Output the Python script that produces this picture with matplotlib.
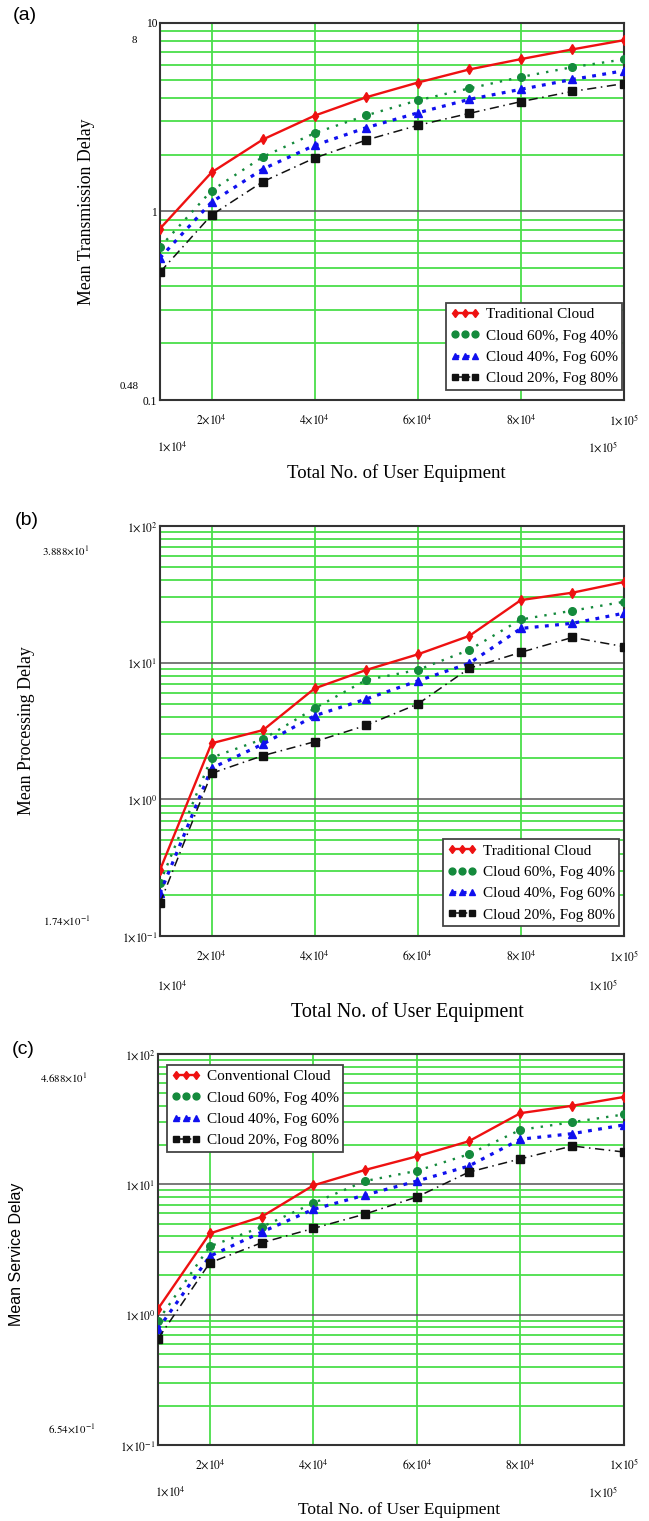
import numpy as np
import matplotlib
matplotlib.use('Agg')
import matplotlib.pyplot as plt

plt.rcParams['font.family'] = ['Liberation Serif', 'DejaVu Serif']
plt.rcParams['mathtext.fontset'] = 'stix'

# number of user equipment
ue = [1e4, 2e4, 3e4, 4e4, 5e4, 6e4, 7e4, 8e4, 9e4, 1e5]

# (a) mean transmission delay
trans_cloud = [0.81, 1.61, 2.41, 3.22, 4.03, 4.82, 5.66, 6.42, 7.23, 8.09]
trans_c60 = [0.647, 1.29, 1.95, 2.60, 3.23, 3.88, 4.49, 5.16, 5.82, 6.40]
trans_c40 = [0.567, 1.12, 1.68, 2.24, 2.78, 3.33, 3.93, 4.44, 5.01, 5.57]
trans_c20 = [0.476, 0.957, 1.44, 1.92, 2.39, 2.86, 3.31, 3.82, 4.33, 4.76]

# (b) mean processing delay
proc_cloud = [0.304, 2.57, 3.21, 6.48, 8.84, 11.5, 15.7, 28.7, 32.5, 38.9]
proc_c60 = [0.245, 2.02, 2.76, 4.63, 7.47, 8.84, 12.4, 20.7, 24.0, 27.9]
proc_c40 = [0.205, 1.69, 2.54, 4.09, 5.42, 7.35, 9.89, 17.8, 19.4, 23.0]
proc_c20 = [0.174, 1.55, 2.09, 2.64, 3.48, 4.98, 9.10, 11.9, 15.3, 13.1]

# (c) mean service delay
serv_cloud = [1.11, 4.20, 5.64, 9.82, 12.9, 16.4, 21.4, 35.2, 40.1, 46.88]
serv_c60 = [0.90, 3.34, 4.70, 7.18, 10.6, 12.7, 17.0, 26.2, 30.0, 34.4]
serv_c40 = [0.776, 2.81, 4.30, 6.43, 8.28, 10.6, 13.8, 22.2, 24.5, 28.6]
serv_c20 = [0.654, 2.50, 3.56, 4.59, 5.92, 8.00, 12.4, 15.7, 19.7, 17.7]

labels_ab = ['Traditional Cloud', 'Cloud 60%, Fog 40%', 'Cloud 40%, Fog 60%', 'Cloud 20%, Fog 80%']
labels_c = ['Conventional Cloud', 'Cloud 60%, Fog 40%', 'Cloud 40%, Fog 60%', 'Cloud 20%, Fog 80%']

xticks = [2e4, 4e4, 6e4, 8e4, 1e5]
xticklabels = [r'$2{\times}10^{4}$', r'$4{\times}10^{4}$', r'$6{\times}10^{4}$',
               r'$8{\times}10^{4}$', r'$1{\times}10^{5}$']
sci_yticks = [0.1, 1, 10, 100]
sci_yticklabels = [r'$1{\times}10^{-1}$', r'$1{\times}10^{0}$', r'$1{\times}10^{1}$', r'$1{\times}10^{2}$']

styles = [
    dict(color='#ee1111', ls='-', lw=1.7, marker='d', ms=5),
    dict(color='#148a3c', ls=(0, (1, 3)), lw=1.7, marker='o', ms=5.5),
    dict(color='#1010ee', ls=(0, (1.2, 2)), lw=2.3, marker='^', ms=5.5),
    dict(color='#111111', ls=(0, (6, 3, 1, 3)), lw=1.1, marker='s', ms=5.5),
]

fig = plt.figure(figsize=(6.49, 15.21), dpi=100)


def make_panel(rect, series, labels, ylim, yticks, yticklabels, ylabel, ylab_font, ylab_size,
               ylab_pos, xlab_size, xlab_pos, extra, sec_y, leg_loc, leg_anchor):
    ax = fig.add_axes(rect)
    ax.set_yscale('log')
    ax.set_xlim(1e4, 1e5)
    ax.set_ylim(*ylim)
    # grid: minor green, decades dark
    ax.set_yticks(yticks)
    ax.set_yticklabels(yticklabels, fontsize=8.3)
    ax.yaxis.set_minor_locator(matplotlib.ticker.LogLocator(base=10, subs=np.arange(2, 10)))
    ax.yaxis.set_minor_formatter(matplotlib.ticker.NullFormatter())
    ax.grid(True, which='minor', axis='y', color='#4ade4a', lw=1.3)
    ax.grid(True, which='major', axis='y', color='#555555', lw=1.1)
    ax.set_xticks(xticks)
    ax.set_xticklabels(xticklabels, fontsize=8.3)
    ax.grid(True, which='major', axis='x', color='#4ade4a', lw=1.3)
    ax.tick_params(axis='x', which='both', length=0, pad=9)
    ax.tick_params(axis='y', which='both', length=0, pad=2)
    ax.set_axisbelow(True)
    for sp in ax.spines.values():
        sp.set_color('#333333')
        sp.set_linewidth(1.5)
    for ys, lab, st in zip(series, labels, styles):
        ax.plot(ue, ys, label=lab, zorder=3, **st)
    leg = ax.legend(loc=leg_loc, bbox_to_anchor=leg_anchor, borderaxespad=0, fontsize=11,
                    numpoints=3, handlelength=1.9, handletextpad=0.4, labelspacing=0.5,
                    markerscale=0.9, fancybox=False, framealpha=1, edgecolor='#444444',
                    borderpad=0.3)
    leg.get_frame().set_linewidth(1.3)
    leg.set_zorder(5)
    ax.set_ylabel(ylabel, fontsize=ylab_size, family=ylab_font, va='center')
    ax.yaxis.set_label_coords(*ylab_pos)
    ax.set_xlabel('Total No. of User Equipment', fontsize=xlab_size, va='center')
    ax.xaxis.set_label_coords(*xlab_pos)
    for txt, xy in extra:
        ax.text(xy[0], xy[1], txt, transform=ax.transAxes, ha='right', va='center', fontsize=7.8)
    ax.text(0.026, sec_y, r'$1{\times}10^{4}$', transform=ax.transAxes, ha='center', va='center', fontsize=8.3)
    ax.text(0.955, sec_y, r'$1{\times}10^{5}$', transform=ax.transAxes, ha='center', va='center', fontsize=8.3)
    return ax


ax_a = make_panel([0.2465, 0.737, 0.715, 0.248],
                  [trans_cloud, trans_c60, trans_c40, trans_c20], labels_ab,
                  (0.1, 10), [0.1, 1, 10], ['0.1', '1', '10'],
                  'Mean Transmission Delay', ['Liberation Serif'], 12.8, (-0.159, 0.499),
                  13.5, (0.509, -0.194),
                  [('8', (-0.05, 0.952)), ('0.48', (-0.047, 0.037))], -0.125,
                  'lower right', (0.996, 0.027))

ax_b = make_panel([0.2465, 0.3846, 0.715, 0.2696],
                  [proc_cloud, proc_c60, proc_c40, proc_c20], labels_ab,
                  (0.1, 100), sci_yticks, sci_yticklabels,
                  'Mean Processing Delay', ['Liberation Serif'], 12.8, (-0.287, 0.502),
                  14.4, (0.534, -0.185),
                  [(r'$3.888{\times}10^{1}$', (-0.151, 0.939)),
                   (r'$1.74{\times}10^{-1}$', (-0.151, 0.037))], -0.12,
                  'lower right', (0.99, 0.024))

ax_c = make_panel([0.2435, 0.050, 0.718, 0.257],
                  [serv_cloud, serv_c60, serv_c40, serv_c20], labels_c,
                  (0.1, 100), sci_yticks, sci_yticklabels,
                  'Mean Service Delay', ['Liberation Sans'], 11.5, (-0.303, 0.488),
                  12.5, (0.517, -0.166),
                  [(r'$4.688{\times}10^{1}$', (-0.152, 0.939)),
                   (r'$6.54{\times}10^{-1}$', (-0.135, 0.041))], -0.12,
                  'upper left', (0.019, 0.972))

fig.text(0.020, 0.990, '(a)', fontsize=14, family='Liberation Sans', va='center')
fig.text(0.023, 0.658, '(b)', fontsize=14, family='Liberation Sans', va='center')
fig.text(0.018, 0.310, '(c)', fontsize=14, family='Liberation Sans', va='center')

fig.savefig('out.png', dpi=100)
